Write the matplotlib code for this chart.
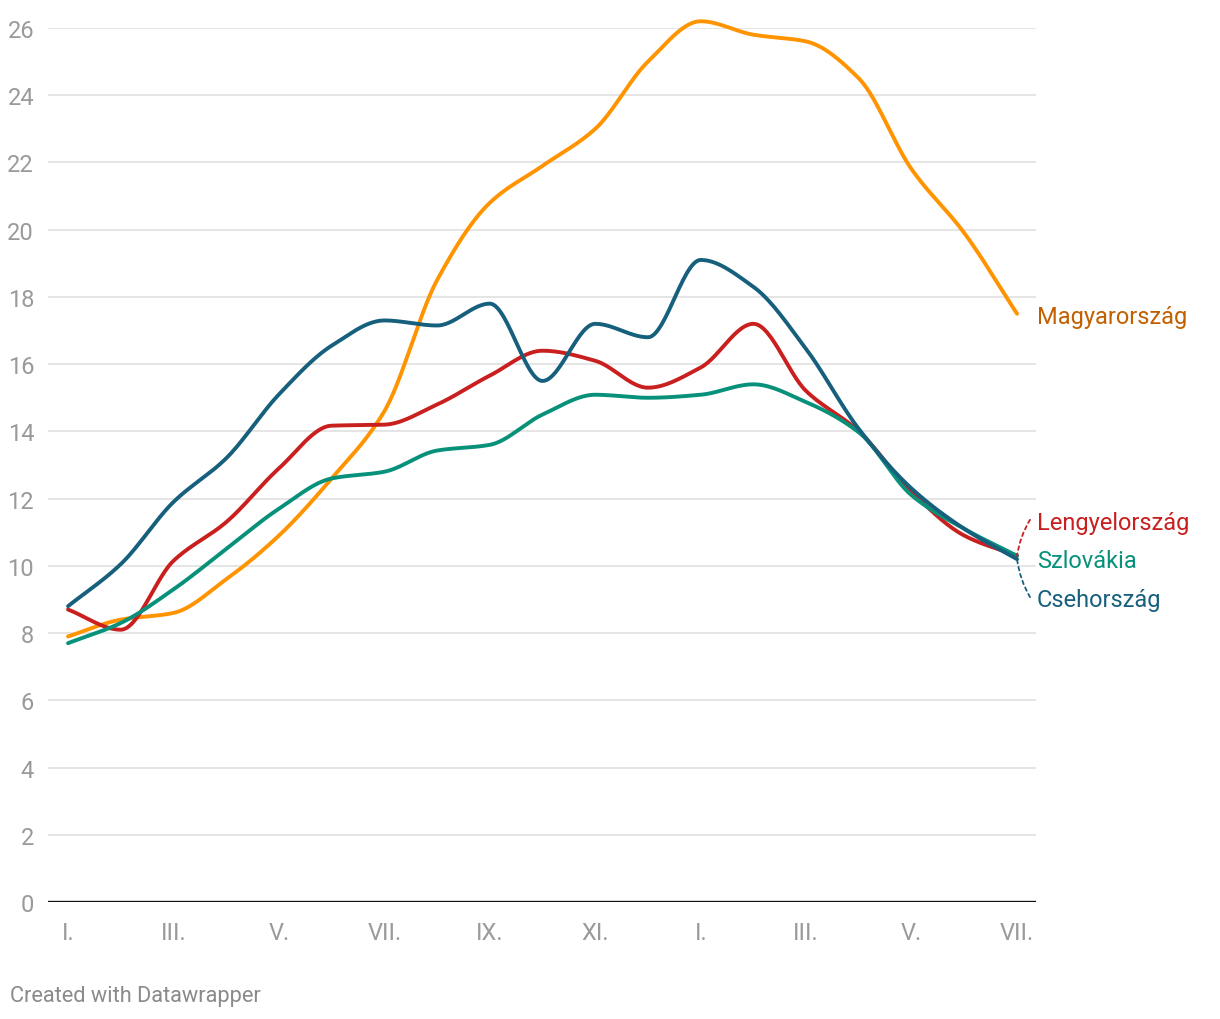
import numpy as np
import matplotlib.pyplot as plt

plt.rcParams['font.family'] = ['Roboto', 'DejaVu Sans']

# havi adatok, I. (1. év) -> VII. (2. év)
honapok = ['I.', 'II.', 'III.', 'IV.', 'V.', 'VI.', 'VII.', 'VIII.', 'IX.', 'X.',
           'XI.', 'XII.', 'I.', 'II.', 'III.', 'IV.', 'V.', 'VI.', 'VII.']
magyarorszag = [7.9, 8.4, 8.6, 9.6, 10.9, 12.6, 14.6, 18.5, 20.8, 21.9,
                23.0, 25.0, 26.2, 25.8, 25.6, 24.5, 21.8, 19.9, 17.5]
lengyelorszag = [8.7, 8.1, 10.15, 11.3, 12.9, 14.17, 14.2, 14.8, 15.66, 16.4,
                 16.1, 15.3, 15.9, 17.2, 15.2, 14.0, 12.2, 10.9, 10.3]
szlovakia = [7.7, 8.3, 9.3, 10.5, 11.7, 12.6, 12.8, 13.43, 13.6, 14.5,
             15.09, 15.0, 15.09, 15.4, 14.87, 13.97, 12.1, 11.1, 10.3]
csehorszag = [8.8, 10.05, 11.9, 13.2, 15.1, 16.55, 17.3, 17.15, 17.8, 15.5,
              17.2, 16.8, 19.1, 18.3, 16.45, 14.07, 12.3, 11.1, 10.2]

sorozatok = [
    ('Magyarország', magyarorszag, '#ff9400'),
    ('Lengyelország', lengyelorszag, '#c91f1f'),
    ('Szlovákia', szlovakia, '#07917a'),
    ('Csehország', csehorszag, '#17607d'),
]


# monoton köbös simítás (mint a datawrapper vonalai)
def monotone(x, y, n=30):
    x = np.asarray(x, float)
    y = np.asarray(y, float)
    h = np.diff(x)
    d = np.diff(y) / h
    m = np.zeros_like(y)
    for i in range(1, len(y) - 1):
        if d[i - 1] * d[i] > 0:
            m[i] = (3 * (h[i - 1] + h[i])) / ((2 * h[i] + h[i - 1]) / d[i - 1] + (h[i] + 2 * h[i - 1]) / d[i])
    m[0] = d[0]
    m[-1] = d[-1]
    xs, ys = [], []
    for i in range(len(x) - 1):
        t = np.linspace(0, 1, n, endpoint=False)
        h00 = 2 * t**3 - 3 * t**2 + 1
        h10 = t**3 - 2 * t**2 + t
        h01 = -2 * t**3 + 3 * t**2
        h11 = t**3 - t**2
        xs.append(x[i] + t * h[i])
        ys.append(h00 * y[i] + h10 * h[i] * m[i] + h01 * y[i + 1] + h11 * h[i] * m[i + 1])
    xs.append([x[-1]])
    ys.append([y[-1]])
    return np.concatenate(xs), np.concatenate(ys)


fig = plt.figure(figsize=(12.2, 10.2), dpi=100)
W, H = 1220, 1020
ax = fig.add_axes([48 / W, (H - 903) / H, (1036 - 48) / W, (903 - 29) / H])

x = np.arange(len(honapok))
for nev, y, szin in sorozatok:
    xs, ys = monotone(x, y)
    ax.plot(xs, ys, color=szin, lw=2.8, solid_capstyle='round', clip_on=False, zorder=3)

ax.set_xlim(-0.38, 18.36)
ax.set_ylim(0, 26)
ax.set_yticks(range(0, 27, 2))
ax.set_xticks(x[::2])
ax.set_xticklabels(honapok[::2])
ax.grid(axis='y', color='#e3e3e3', lw=1.3)
ax.set_axisbelow(True)
for s in ax.spines.values():
    s.set_visible(False)
ax.axhline(0, color='#111111', lw=2.4, zorder=2)
ax.tick_params(length=0, labelsize=17, colors='#9a9a9a', pad=10)
ax.tick_params(axis='x', pad=14)

# címkék
fs = 17
ax.annotate('Magyarország', (18, magyarorszag[-1]), xytext=(20, -3), textcoords='offset pixels',
            color='#c45f00', fontsize=fs, va='center')
ax.annotate('Lengyelország', (18, lengyelorszag[-1]), xytext=(20, 33), textcoords='offset pixels',
            color='#c91f1f', fontsize=fs, va='center')
ax.annotate('Szlovákia', (18, szlovakia[-1]), xytext=(20, -5), textcoords='offset pixels',
            color='#07917a', fontsize=fs, va='center')
ax.annotate('Csehország', (18, csehorszag[-1]), xytext=(20, -40), textcoords='offset pixels',
            color='#17607d', fontsize=fs, va='center')
# pontozott összekötők
ax.annotate('', (18, lengyelorszag[-1]), xytext=(13, 36), textcoords='offset pixels',
            arrowprops=dict(arrowstyle='-', color='#c91f1f', ls=(0, (2, 2)), lw=1.3,
                            connectionstyle='arc3,rad=0.1', shrinkA=0, shrinkB=0))
ax.annotate('', (18, csehorszag[-1]), xytext=(13, -38), textcoords='offset pixels',
            arrowprops=dict(arrowstyle='-', color='#17607d', ls=(0, (2, 2)), lw=1.3,
                            connectionstyle='arc3,rad=-0.1', shrinkA=0, shrinkB=0))

fig.text(10 / W, 1 - 997 / H, 'Created with Datawrapper', fontsize=15.7, color='#8a8a8a', va='center')

fig.savefig('out.png', dpi=100, facecolor='white')
